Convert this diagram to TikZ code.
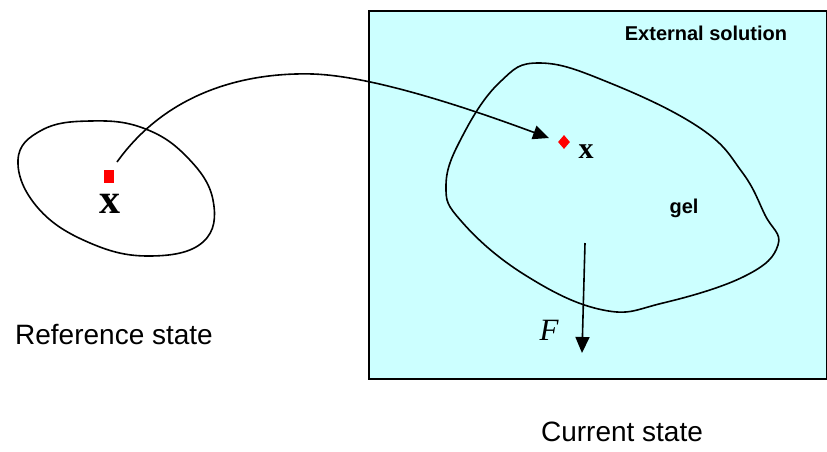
\documentclass[tikz,border=0pt]{standalone}
\usepackage{fontspec}
\setmainfont{Liberation Serif}
\setsansfont{Liberation Sans}
\usetikzlibrary{arrows.meta,shapes.geometric}
\definecolor{solcyan}{HTML}{CCFFFF}
\definecolor{ptred}{HTML}{FF0000}
\tikzset{
  outline/.style={line width=1.6pt, black},
  blob/.style={line width=1.6pt, black, smooth cycle, tension=0.7},
  conn/.style={line width=1.6pt, -{Triangle[length=16pt,width=14pt]}},
  lbl/.style={font=\sffamily\fontsize{28}{30}\selectfont, inner sep=0pt},
  blbl/.style={font=\sffamily\bfseries\fontsize{20}{22}\selectfont, inner sep=0pt},
  xlbl/.style={font=\rmfamily\bfseries, inner sep=0pt},
}
\begin{document}
\begin{tikzpicture}[x=1pt,y=-1pt]
\useasboundingbox (0,0) rectangle (827,451);
% external solution box
\node[draw, outline, fill=solcyan, minimum width=458pt, minimum height=368pt, inner sep=0pt, anchor=north west] (box) at (368,10) {};
\node[blbl] (ext) at (706,33) {External solution};
% reference body
\draw[blob] plot coordinates {(18,160) (42,130) (90,121) (143,128) (187,157) (213,200) (203,242) (150,256) (90,243) (38,208)};
% gel body
\draw[blob] plot coordinates {(540,63) (610,83) (700,128) (742,172) (765,215) (778,245) (745,276) (663,303) (603,310) (525,275) (462,222) (446,185) (463,135) (500,82)};
\node[blbl] (gel) at (684,208) {gel};
% points
\node[fill=ptred, minimum width=10pt, minimum height=13pt, inner sep=0pt] (sq) at (109,176.5) {};
\node[xlbl, font=\rmfamily\bfseries\fontsize{42}{44}\selectfont] (xref) at (110,204) {x};
\node[fill=ptred, diamond, minimum width=12pt, minimum height=14pt, inner sep=0pt] (dia) at (564,142) {};
\node[xlbl, font=\rmfamily\bfseries\fontsize{30}{32}\selectfont] (xcur) at (586,152) {x};
% mapping arrow
\coordinate (mstart) at (117,162);
\coordinate (mmid) at (313,74);
\coordinate (mend) at (549,138);
\draw[conn] (mstart) .. controls (165,95) and (240,72) .. (mmid) .. controls (370,76) and (460,105) .. (mend);
% force arrow
\coordinate (ftop) at (585,243);
\coordinate (fbot) at (582,353);
\draw[conn] (ftop) -- (fbot);
\node[font=\rmfamily\itshape\fontsize{31}{33}\selectfont, inner sep=0pt] (F) at (549,330) {F};
% captions
\node[lbl] (ref) at (114,334) {Reference state};
\node[lbl] (cur) at (622,432) {Current state};
\end{tikzpicture}
\end{document}
